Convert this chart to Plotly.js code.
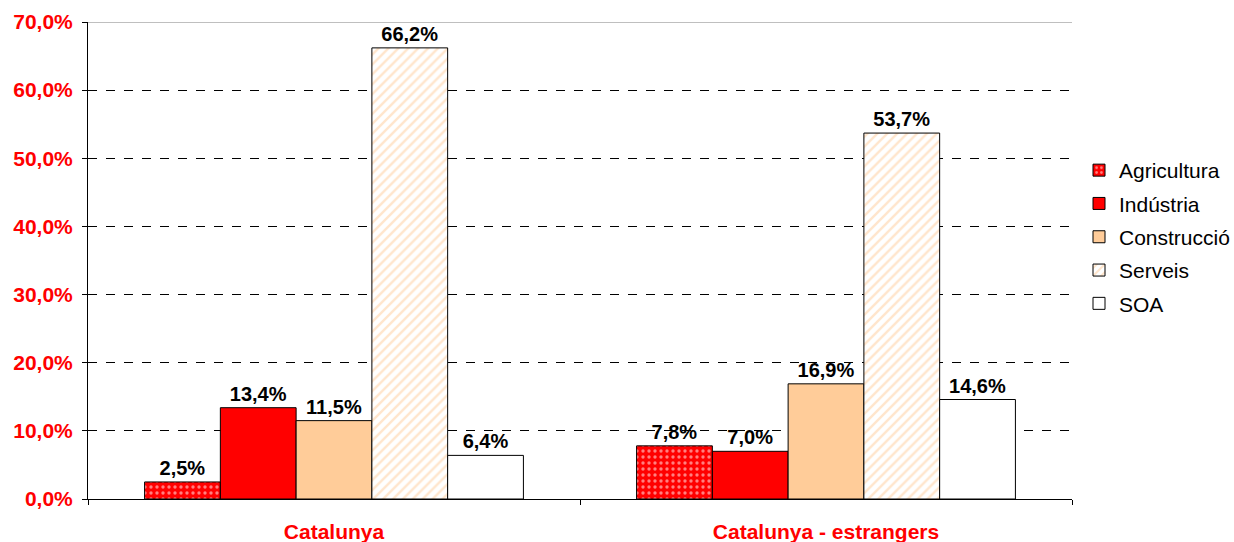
<!DOCTYPE html>
<html><head><meta charset="utf-8">
<script src="https://cdn.plot.ly/plotly-3.0.1.min.js"></script>
<style>body{margin:0;background:#fff}#c{width:1234px;height:542px}</style>
</head><body><div id="c"></div>
<script>
const categories = ["Catalunya", "Catalunya - estrangers"];
const seriesNames = ["Agricultura", "Indústria", "Construcció", "Serveis", "SOA"];
const agricultura = [2.5, 7.8];
const industria = [13.4, 7.0];
const construccio = [11.5, 16.9];
const serveis = [66.2, 53.7];
const soa = [6.4, 14.6];
const yTicks = [0, 10, 20, 30, 40, 50, 60, 70];
const yTickLabels = ["0,0%", "10,0%", "20,0%", "30,0%", "40,0%", "50,0%", "60,0%", "70,0%"];

const values = [agricultura, industria, construccio, serveis, soa];
const styles = [
  {color: "#FF0000", pattern: {shape: ".", fgcolor: "#FFFFFF", bgcolor: "#FF0000", size: 6, solidity: 0.25, fillmode: "overlay"}},
  {color: "#FF0000"},
  {color: "#FFCC99"},
  {color: "#FFFFFF", pattern: {shape: "/", fgcolor: "#FFCC99", bgcolor: "#FFFFFF", size: 7, solidity: 0.35, fillmode: "overlay"}},
  {color: "#FFFFFF"}
];
const traces = seriesNames.map((n, i) => {
  const m = {color: styles[i].color, line: {color: "#000000", width: 1}};
  if (styles[i].pattern) m.pattern = styles[i].pattern;
  return {
    type: "bar", name: n, x: categories, y: values[i], marker: m,
    legendgroup: "g" + i,
    texttemplate: "%{y:.1f}%", textposition: "outside", cliponaxis: false,
    textfont: {family: "Liberation Sans, Arial, sans-serif", size: 20, color: "#000", weight: "bold"},
    hoverinfo: "skip"
  };
});

const layout = {
  width: 1234, height: 542,
  margin: {l: 88, r: 162, t: 22, b: 43},
  paper_bgcolor: "#fff", plot_bgcolor: "#fff",
  separators: ",.",
  font: {family: "Liberation Sans, Arial, sans-serif", color: "#000"},
  barmode: "group", bargap: 0.23, bargroupgap: 0,
  showlegend: true,
  legend: {xref: "container", yref: "container", x: 1079 / 1234, y: 1 - 150 / 542,
    xanchor: "left", yanchor: "top",
    font: {size: 21, color: "#000"}, tracegroupgap: 3, itemwidth: 30,
    bgcolor: "rgba(0,0,0,0)"},
  xaxis: {
    type: "category", tickson: "boundaries", ticks: "outside", ticklen: 5,
    tickcolor: "#000", showline: true, linecolor: "#000", linewidth: 1,
    showgrid: false, fixedrange: true, ticklabelstandoff: 14, automargin: false,
    tickfont: {size: 21, color: "#FF0000", weight: "bold"}
  },
  yaxis: {
    range: [0, 70], tickvals: yTicks, ticktext: yTickLabels,
    ticks: "outside", ticklen: 5, tickcolor: "#000", ticklabelstandoff: 5,
    showline: true, linecolor: "#000", linewidth: 1, automargin: false,
    showgrid: true, gridcolor: "#000", griddash: "dash", gridwidth: 1,
    zeroline: false, fixedrange: true,
    tickfont: {size: 21, color: "#FF0000", weight: "bold"}
  },
  shapes: [{type: "line", xref: "paper", yref: "y", x0: 0, x1: 1, y0: 70, y1: 70,
    line: {color: "#808080", width: 1}}]
};
Plotly.newPlot("c", traces, layout, {displayModeBar: false, staticPlot: true});
</script></body></html>
